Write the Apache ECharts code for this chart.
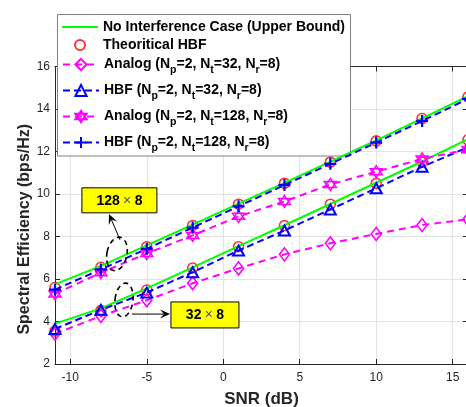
<!DOCTYPE html>
<html><head><meta charset="utf-8">
<script src="https://cdn.jsdelivr.net/npm/echarts@6/dist/echarts.min.js"></script>
<style>html,body{margin:0;padding:0;background:#fff}#c{width:466px;height:407px}</style>
</head><body><div id="c"></div>
<script>
// ---- data ----
const snr = [-11, -8, -5, -2, 1, 4, 7, 10, 13, 16];
const noIntf128 = [5.75, 6.62, 7.58, 8.56, 9.55, 10.52, 11.52, 12.52, 13.56, 14.6];
const theo128   = [5.6, 6.55, 7.52, 8.52, 9.52, 10.5, 11.5, 12.5, 13.55, 14.57];
const hbf128    = [5.5, 6.45, 7.42, 8.42, 9.42, 10.42, 11.42, 12.42, 13.44, 14.48];
const analog128 = [5.3, 6.3, 7.2, 8.05, 8.95, 9.65, 10.45, 11.05, 11.65, 12.1];
const noIntf32  = [3.9, 4.62, 5.56, 6.55, 7.55, 8.53, 9.53, 10.53, 11.53, 12.58];
const theo32    = [3.55, 4.52, 5.48, 6.52, 7.52, 8.51, 9.52, 10.5, 11.5, 12.55];
const hbf32     = [3.65, 4.55, 5.36, 6.32, 7.34, 8.28, 9.27, 10.27, 11.28, 12.2];
const analog32  = [3.42, 4.26, 5.0, 5.8, 6.5, 7.16, 7.68, 8.12, 8.54, 8.81];
const xTickVals = [-10, -5, 0, 5, 10, 15];
const seriesNames = [
  'No Interference Case (Upper Bound)',
  'Theoritical HBF',
  'Analog (Np=2, Nt=32, Nr=8)',
  'HBF (Np=2, Nt=32, Nr=8)',
  'Analog (Np=2, Nt=128, Nr=8)',
  'HBF (Np=2, Nt=128, Nr=8)'
];
const annoLabels = [['128', '8'], ['32', '8']];

// ---- chart ----
const FONT = '"Liberation Sans", Arial, Helvetica, sans-serif';
const AX = '#262626';
const chart = echarts.init(document.getElementById('c'), null, {renderer: 'canvas'});
const pair = ys => snr.map((x, i) => [x, ys[i]]);
const richName = n => n.replace(/N([ptr])=/g, 'N{s|$1}=');

const PLUS = 'path://M5,0 L5,10 M0,5 L10,5';
const HEX = 'path://M5,0 L9.33,7.5 L0.67,7.5 Z M5,10 L0.67,2.5 L9.33,2.5 Z';
const BAR = 'path://M0,0 H36 V2 H0 Z';

function lineSeries(name, ys, color, symbol, size, dash, bw) {
  return {
    name, type: 'line', data: pair(ys), symbol, symbolSize: size, showAllSymbol: true,
    lineStyle: {color, width: 2, type: dash},
    itemStyle: {color: 'transparent', borderColor: color, borderWidth: bw},
    emphasis: {disabled: true}, clip: false
  };
}

const xBase = {
  type: 'value', min: -11, max: 16, gridIndex: 0,
  axisLine: {show: true, onZero: false, lineStyle: {color: AX, width: 1}},
  axisTick: {show: true, inside: true, length: 5, customValues: xTickVals, lineStyle: {color: AX}},
};
const yBase = {
  type: 'value', min: 2, max: 16, interval: 2, gridIndex: 0,
  axisLine: {show: true, onZero: false, lineStyle: {color: AX, width: 1}},
  axisTick: {show: true, inside: true, length: 5, lineStyle: {color: AX}},
};

const legendText = {fontFamily: FONT, fontSize: 14, fontWeight: 'bold', color: '#000',
  rich: {s: {fontFamily: FONT, fontSize: 10.5, fontWeight: 'bold', color: '#000', padding: [12, 0, 0, 0]}}};
const legendBase = {
  orient: 'vertical', left: 57, itemWidth: 36, itemHeight: 14,
  backgroundColor: 'transparent', borderWidth: 0, selectedMode: false,
  textStyle: legendText, formatter: n => richName(n), z: 5
};

const option = {
  animation: false,
  backgroundColor: '#fff',
  grid: {left: 55, right: -2, top: 66.5, bottom: 43, outerBoundsMode: 'none', containLabel: false},
  legend: [
    Object.assign({}, legendBase, {top: 14, itemGap: 4, itemHeight: 10, padding: [6, 5, 0, 5],
      data: [{name: seriesNames[0], icon: BAR}, {name: seriesNames[1]}]}),
    Object.assign({}, legendBase, {top: 57.5, itemGap: 7.5, padding: [0, 5, 0, 5],
      data: seriesNames.slice(2)})
  ],
  xAxis: [
    Object.assign({}, xBase, {
      position: 'bottom',
      axisLabel: {show: true, customValues: xTickVals, color: AX, fontFamily: FONT, fontSize: 12, margin: 8},
      splitLine: {show: true, lineStyle: {color: '#e3e3e3', width: 1}},
      name: 'SNR (dB)', nameLocation: 'middle', nameGap: 27, nameMoveOverlap: false,
      nameTextStyle: {fontFamily: FONT, fontSize: 17, fontWeight: 'bold', color: AX}
    }),
    Object.assign({}, xBase, {position: 'top', axisLabel: {show: false}, splitLine: {show: false}})
  ],
  yAxis: [
    Object.assign({}, yBase, {
      position: 'left',
      axisLabel: {show: true, color: AX, fontFamily: FONT, fontSize: 12, margin: 5},
      splitLine: {show: true, lineStyle: {color: '#e3e3e3', width: 1}},
      name: 'Spectral Efficiency (bps/Hz)', nameLocation: 'middle', nameGap: 22, nameMoveOverlap: false,
      nameTextStyle: {fontFamily: FONT, fontSize: 16, fontWeight: 'bold', color: AX, padding: [0, 28, 0, 0]}
    }),
    Object.assign({}, yBase, {position: 'right', axisLabel: {show: false}, splitLine: {show: false}})
  ],
  series: [
    {name: seriesNames[0], type: 'line', data: pair(noIntf128), symbol: 'none',
     lineStyle: {color: '#00ff00', width: 2}, itemStyle: {color: '#00ff00'}, emphasis: {disabled: true}},
    {name: seriesNames[0], type: 'line', data: pair(noIntf32), symbol: 'none',
     lineStyle: {color: '#00ff00', width: 2}, itemStyle: {color: '#00ff00'}, emphasis: {disabled: true}},
    {name: seriesNames[1], type: 'scatter', data: pair(theo128), symbol: 'circle', symbolSize: 10,
     itemStyle: {color: 'transparent', borderColor: '#ff0000', borderWidth: 1.6}, emphasis: {disabled: true}, clip: false},
    {name: seriesNames[1], type: 'scatter', data: pair(theo32), symbol: 'circle', symbolSize: 10,
     itemStyle: {color: 'transparent', borderColor: '#ff0000', borderWidth: 1.6}, emphasis: {disabled: true}, clip: false},
    lineSeries(seriesNames[2], analog32, '#ff00ff', 'diamond', [10, 13], [7, 5], 1.6),
    lineSeries(seriesNames[3], hbf32, '#0000ff', 'triangle', [11, 10], [7, 4], 2),
    lineSeries(seriesNames[4], analog128, '#ff00ff', HEX, 12, [7, 5], 1.5),
    lineSeries(seriesNames[5], hbf128, '#0000ff', PLUS, 12, [7, 4], 2.2)
  ]
};
chart.setOption(option);

// ---- annotations positioned through the axes ----
const P = (x, y) => chart.convertToPixel({gridIndex: 0}, [x, y]);
function box(tl, w, h, lab) {
  const p = P(tl[0], tl[1]);
  return [
    {type: 'rect', shape: {x: p[0], y: p[1], width: w, height: h},
     style: {fill: '#ffff00', stroke: '#000', lineWidth: 1}, z: 100},
    {type: 'text', x: p[0] + w / 2, y: p[1] + h / 2 + 0.5, z: 101,
     style: {text: '{b|' + lab[0] + '} {x|×} {b|' + lab[1] + '}', align: 'center', verticalAlign: 'middle',
       rich: {b: {fontFamily: FONT, fontSize: 14, fontWeight: 'bold', fill: '#000'},
              x: {fontFamily: FONT, fontSize: 14, fill: '#555'}}}}
  ];
}
function ell(c, rx, ry, rot) {
  const p = P(c[0], c[1]);
  return {type: 'ellipse', x: p[0], y: p[1], rotation: rot, shape: {cx: 0, cy: 0, rx, ry},
    style: {fill: 'none', stroke: '#000', lineWidth: 1.6, lineDash: [5, 4]}, z: 100};
}
function arrow(a, b) {
  const p = P(a[0], a[1]), q = P(b[0], b[1]);
  const dx = q[0] - p[0], dy = q[1] - p[1], L = Math.hypot(dx, dy);
  const ux = dx / L, uy = dy / L, nx = -uy, ny = ux;
  const hl = 10, hw = 9;
  const bx = q[0] - ux * hl, by = q[1] - uy * hl;
  const mx = q[0] - ux * hl * 0.6, my = q[1] - uy * hl * 0.6;
  return [
    {type: 'line', shape: {x1: p[0], y1: p[1], x2: mx, y2: my}, style: {stroke: '#000', lineWidth: 1}, z: 100},
    {type: 'polygon', shape: {points: [[q[0], q[1]], [bx + nx * hw / 2, by + ny * hw / 2], [mx, my], [bx - nx * hw / 2, by - ny * hw / 2]]},
     style: {fill: '#000'}, z: 100}
  ];
}
chart.setOption({graphic: {elements: [].concat(
  [{type: 'rect', shape: {x: 57.5, y: 14.5, width: 293, height: 141.5},
    style: {fill: '#fff', stroke: '#808080', lineWidth: 1}, z: 3}],
  box([-9.24, 10.29], 75, 25, annoLabels[0]),
  box([-3.42, 4.92], 68, 26, annoLabels[1]),
  [ell([-6.95, 7.18], 10, 17, -0.2), ell([-6.49, 5.01], 9, 17, -0.12)],
  arrow([-6.75, 7.84], [-7.47, 9.06]),
  arrow([-5.97, 4.35], [-3.48, 4.35])
)}});
</script></body></html>
